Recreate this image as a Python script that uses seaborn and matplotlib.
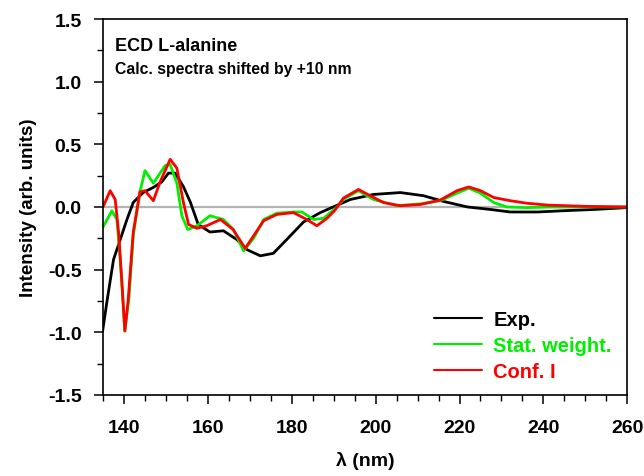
import numpy as np
import pandas as pd
import matplotlib
matplotlib.use("Agg")
import matplotlib.pyplot as plt
from matplotlib.ticker import MultipleLocator, FormatStrFormatter
import seaborn as sns

# Experimental ECD spectrum
exp_x = [134.9, 136, 137.5, 139.1, 140.7, 142.2, 144.6, 147, 149, 150.6, 152.2, 154.2,
         155.8, 157.7, 160.5, 163.7, 166.9, 169.3, 172.5, 175.6, 178.8, 182.8, 186.8,
         189.2, 194, 199.5, 205.9, 211.4, 216.1, 221.9, 227.4, 232.1, 238.6, 244.8, 252, 260]
exp_y = [-0.99, -0.74, -0.42, -0.26, -0.1, 0.036, 0.116, 0.156, 0.2, 0.27, 0.27, 0.16,
         0.04, -0.14, -0.2, -0.19, -0.26, -0.34, -0.39, -0.37, -0.26, -0.12, -0.045,
         -0.01, 0.06, 0.1, 0.115, 0.09, 0.045, 0.0, -0.02, -0.04, -0.04, -0.03, -0.02, -0.005]

# Statistically weighted calc. spectrum
stat_x = [135, 137.1, 138.3, 139.1, 140.2, 141.2, 142.2, 143.8, 145, 147, 149.8, 151,
          152.6, 153.8, 155.2, 157.4, 160.5, 163.7, 166.1, 168.5, 170.9, 173.3, 176.4,
          180.4, 182.4, 185.2, 187.6, 190.8, 192.3, 195.9, 199.5, 205, 210.7, 215.4,
          219.4, 222.2, 225, 228.2, 231.3, 236, 242, 250, 260]
stat_y = [-0.16, -0.03, -0.1, -0.42, -0.99, -0.72, -0.23, 0.12, 0.29, 0.19, 0.33, 0.34,
          0.19, -0.07, -0.18, -0.15, -0.07, -0.1, -0.18, -0.35, -0.25, -0.1, -0.05,
          -0.04, -0.04, -0.1, -0.09, 0.0, 0.06, 0.13, 0.06, 0.01, 0.025, 0.05,
          0.11, 0.15, 0.11, 0.035, 0.0, -0.005, 0.0, 0.0, 0.0]

# Conformer I calc. spectrum
conf_x = [135, 136.7, 137.9, 138.7, 139.5, 140.2, 141, 142.2, 143.8, 145, 147, 148.6,
          151, 152.6, 154.2, 155.4, 157.4, 159.7, 163, 166, 168.9, 170.9, 173.3, 176.4,
          180.4, 183.6, 186, 188.4, 190.2, 192.3, 195.9, 198.7, 201.9, 205.9, 210.7,
          215.4, 219.4, 222.2, 225, 228.2, 232.1, 236, 241, 250, 260]
conf_y = [0.0, 0.13, 0.06, -0.2, -0.6, -0.99, -0.74, -0.2, 0.12, 0.13, 0.05, 0.2,
          0.38, 0.31, 0.03, -0.14, -0.17, -0.15, -0.1, -0.18, -0.33, -0.23, -0.11, -0.06,
          -0.045, -0.1, -0.15, -0.09, -0.03, 0.07, 0.14, 0.09, 0.035, 0.01, 0.02,
          0.055, 0.13, 0.16, 0.13, 0.075, 0.05, 0.03, 0.015, 0.005, 0.0]

labels = ["Exp.", "Stat. weight.", "Conf. I"]
colors = ["black", "#00ee00", "#ff0000"]

df = pd.concat([
    pd.DataFrame({"x": exp_x, "y": exp_y, "series": labels[0]}),
    pd.DataFrame({"x": stat_x, "y": stat_y, "series": labels[1]}),
    pd.DataFrame({"x": conf_x, "y": conf_y, "series": labels[2]}),
])

sns.set_style("ticks")
plt.rcParams["font.family"] = ["Liberation Sans", "DejaVu Sans"]
plt.rcParams["font.weight"] = "bold"
plt.rcParams["text.color"] = "black"
plt.rcParams["axes.labelcolor"] = "black"
plt.rcParams["xtick.color"] = "black"
plt.rcParams["ytick.color"] = "black"

fig = plt.figure(figsize=(6.44, 4.77), dpi=100)
ax = fig.add_axes([0.16, 0.17, 0.814, 0.788])

ax.axhline(0, color="#b4b4b4", lw=1.6, zorder=1)
sns.lineplot(data=df, x="x", y="y", hue="series", hue_order=labels,
             palette=colors, lw=2.0, sort=False, estimator=None, ax=ax, zorder=2)

ax.set_xlim(135, 260)
ax.set_ylim(-1.5, 1.5)
ax.set_xticks(np.arange(140, 261, 20))
ax.xaxis.set_minor_locator(MultipleLocator(5))
ax.yaxis.set_major_locator(MultipleLocator(0.5))
ax.yaxis.set_minor_locator(MultipleLocator(0.25))
ax.yaxis.set_major_formatter(FormatStrFormatter("%.1f"))
ax.tick_params(axis="both", which="major", direction="out", length=6.5, width=1.1,
               labelsize=14, colors="black")
ax.tick_params(axis="x", which="major", pad=11)
ax.tick_params(axis="y", which="major", pad=9)
ax.tick_params(axis="both", which="minor", direction="out", length=4.3, width=1.0,
               colors="black")
for lab in ax.get_xticklabels() + ax.get_yticklabels():
    lab.set_fontweight("bold")
for sp in ax.spines.values():
    sp.set_visible(True)
    sp.set_linewidth(1.2)
    sp.set_color("black")

ax.set_xlabel("λ (nm)", fontsize=14, fontweight="bold", labelpad=11)
ax.set_ylabel("Intensity (arb. units)", fontsize=13.5, fontweight="bold", labelpad=8)

ax.text(0.023, 0.93, "ECD L-alanine", transform=ax.transAxes, fontsize=13,
        fontweight="bold", va="center", ha="left", color="black")
ax.text(0.023, 0.868, "Calc. spectra shifted by +10 nm", transform=ax.transAxes,
        fontsize=11.3, fontweight="bold", va="center", ha="left", color="black")

leg = ax.legend(loc="lower right", bbox_to_anchor=(1.005, -0.012), frameon=False,
                labelcolor="linecolor", handlelength=2.4, handletextpad=0.55,
                labelspacing=0.35, prop={"size": 14.5, "weight": "bold"})
for h in leg.legend_handles:
    h.set_linewidth(1.5)

fig.savefig("out.png", dpi=100)
